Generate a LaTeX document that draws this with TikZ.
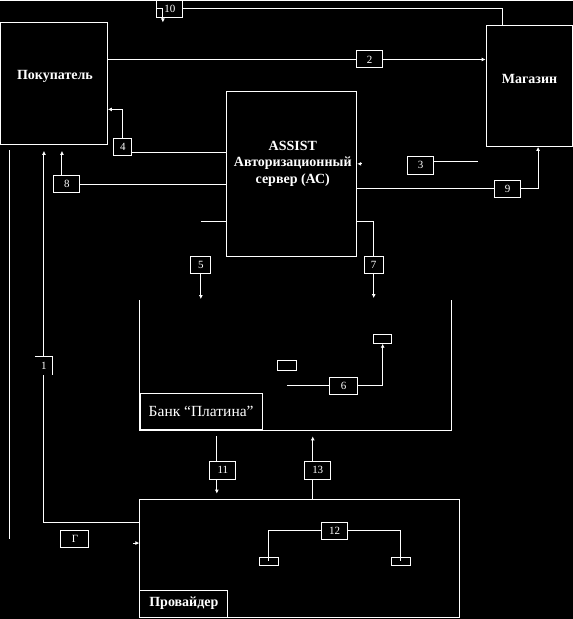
\documentclass[tikz,border=0pt]{standalone}
\usepackage{fontspec}
\setmainfont{Liberation Serif}
\usetikzlibrary{arrows.meta}

\tikzset{
	wire/.style={draw=white, line width=1pt},
	arr/.style={wire, -{Latex[length=4pt,width=4pt]}},
	bigbox/.style={draw=white, line width=1pt, inner sep=0pt, text=white},
	numbox/.style={bigbox, fill=black, minimum height=17pt, font=\fontsize{11}{11}\selectfont},
	boxtitle/.style={text=white, font=\bfseries\fontsize{14}{16.5}\selectfont, align=center}
}

\begin{document}
\begin{tikzpicture}[x=1pt,y=-1pt]
	\fill[black] (0,0) rectangle (573,619);
	\node[bigbox, minimum width=107pt, minimum height=122pt] (pok) at (54,83) {};
	\node[boxtitle] (pokt) at (55,76) {Покупатель};
	\node[bigbox, minimum width=86pt, minimum height=121pt] (mag) at (529.5,85.5) {};
	\node[boxtitle] (magt) at (530,79) {Магазин};
	\node[bigbox, minimum width=130pt, minimum height=165pt] (ac) at (292,173.5) {};
	\node[boxtitle] (act) at (293,163) {ASSIST\\Авторизационный\\сервер (АС)};
	\node[inner sep=0pt, minimum width=312pt, minimum height=130pt] (bank) at (296,365) {};
	\draw[wire] (bank.north west) -- (bank.south west) -- (bank.south east) -- (bank.north east);
	\node[bigbox, font=\fontsize{15.5}{15.5}\selectfont, minimum width=122pt, minimum height=36pt, anchor=south west] (bankt) at (bank.south west) {Банк “Платина”};
	\node[bigbox, minimum width=320pt, minimum height=118pt] (prov) at (300,558) {};
	\node[bigbox, boxtitle, minimum width=88pt, minimum height=27pt, anchor=south west] (provt) at (prov.south west) {Провайдер};
	\node[numbox, minimum width=26pt] (b10) at (170,8.5) {10};
	\node[numbox, minimum width=26pt] (b2) at (370,59) {2};
	\node[numbox, minimum width=26pt, minimum height=18pt] (b3) at (421,165) {3};
	\node[numbox, minimum width=18pt] (b4) at (123,146.5) {4};
	\node[numbox, minimum width=26pt] (b8) at (67,184) {8};
	\node[numbox, minimum width=26pt] (b9) at (508,188.5) {9};
	\node[numbox, minimum width=20pt] (b5) at (201,264.5) {5};
	\node[numbox, minimum width=19pt] (b7) at (374,265) {7};
	\node[numbox, minimum width=28pt] (b6) at (344,385.5) {6};
	\node[numbox, draw=none, minimum width=17pt] (b1) at (44,365.5) {1};
	\draw[wire] (b1.north west) -- (b1.north east) -- (b1.south east);
	\node[numbox, minimum width=26pt, minimum height=18pt] (b11) at (223,470) {11};
	\node[numbox, minimum width=26pt, minimum height=18pt] (b13) at (318,470) {13};
	\node[numbox, minimum width=26pt] (b12) at (335,530.5) {12};
	\node[numbox, minimum width=28pt] (bg) at (75,538.5) {Г};
	\node[bigbox, minimum width=18pt, minimum height=9pt] (sq1) at (383,338.5) {};
	\node[bigbox, minimum width=19pt, minimum height=10pt] (sq2) at (287.5,365) {};
	\node[bigbox, minimum width=19pt, minimum height=8pt] (sq3) at (269,561) {};
	\node[bigbox, minimum width=19pt, minimum height=8pt] (sq4) at (401,561) {};
	\coordinate (k10) at (163,22);
	\coordinate (m10) at (503,25);
	\coordinate (k0a) at (10,150);
	\coordinate (k0b) at (10,539);
	\coordinate (k3) at (478,161);
	\coordinate (k5) at (201,221);
	\coordinate (k6) at (287,385.5);
	\draw[arr] (b10.west) -| (k10);
	\draw[wire] (b10.east) -| (m10);
	\draw[wire] (b2.west) -- (b2.west -| pok.east);
	\draw[arr] (b2.east) -- (b2.east -| mag.west);
	\draw[wire] ([yshift=3pt]b4.south east) coordinate (t4) -- (t4 -| ac.west);
	\draw[arr] (b4.north) |- ([yshift=-26pt]pok.east);
	\draw[wire] (b8.east) -- (b8.east -| ac.west);
	\draw[arr, shorten >=6pt] ([xshift=-5pt]b8.north) coordinate (t8) -- (t8 |- pok.south);
	\draw[wire] ([yshift=36pt]prov.west) -| (b1.south);
	\draw[arr, shorten >=6pt] (b1.north) -- (b1.north |- pok.south);
	\draw[wire] (k0a) -- (k0b);
	\draw[arr] ([xshift=-6pt,yshift=15pt]prov.west) -- ([yshift=15pt]prov.west);
	\draw[wire] (b3.east |- k3) -- (k3);
	\draw[arr] ([xshift=5pt,yshift=10pt]ac.east) -- ([yshift=10pt]ac.east);
	\draw[wire] (b9.west -| ac.east) -- (b9.west);
	\draw[arr] (b9.east) -| ([xshift=9pt]mag.south);
	\draw[wire] (k5) -- (k5 -| ac.west);
	\draw[wire] ([yshift=-47.5pt]ac.east) -| (b7.north);
	\draw[arr, shorten >=2pt] (b7.south) -- (b7.south |- bank.north);
	\draw[arr, shorten >=1pt] (b5.south) -- (b5.south |- bank.north);
	\draw[wire] (k6) -- (b6.west);
	\draw[arr] (b6.east) -| (sq1.south);
	\draw[wire, shorten >=6pt] ([xshift=-6pt]b11.north) coordinate (t11) -- (t11 |- bank.south);
	\draw[arr, shorten >=5pt] ([xshift=-6pt]b11.south) coordinate (u11) -- (u11 |- prov.north);
	\draw[wire] ([xshift=-5pt]b13.south) coordinate (t13) -- (t13 |- prov.north);
	\draw[arr, shorten >=6pt] ([xshift=-5pt]b13.north) coordinate (u13) -- (u13 |- bank.south);
	\draw[wire] (b12.west) -- (b12.west -| sq3) -- (sq3.center);
	\draw[wire] (b12.east) -- (b12.east -| sq4) -- (sq4.center);
\end{tikzpicture}
\end{document}
